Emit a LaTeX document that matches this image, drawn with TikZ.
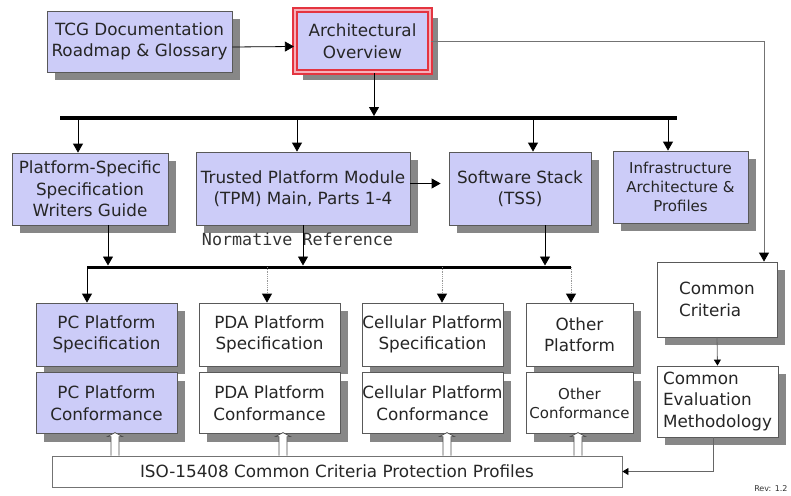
\documentclass[tikz,border=0pt]{standalone}
\usepackage{fontspec}
\setmainfont{DejaVu Sans}
\setmonofont{DejaVu Sans Mono}
\usepackage{tikz}
\usetikzlibrary{positioning,shadows,arrows.meta}
\definecolor{boxfill}{RGB}{204,204,248}
\definecolor{shadowgray}{RGB}{135,135,135}
\definecolor{archred}{RGB}{228,52,64}
\definecolor{archpink}{RGB}{246,176,186}

\begin{document}
\begin{tikzpicture}[x=1pt,y=-1pt,
	box/.style={draw=black!65,line width=0.8pt,fill=boxfill,inner sep=0pt,align=center,text=black!85,
		font=\fontsize{16.8}{21.5}\selectfont,
		drop shadow={shadow xshift=8pt,shadow yshift=-8pt,fill=shadowgray,opacity=1}},
	wbox/.style={box,fill=white},
	small/.style={font=\fontsize{15}{19}\selectfont},
	arr/.style={-{Triangle[length=9pt,width=10pt,color=black]},line width=0.8pt},
	dotted edge/.style={densely dotted,draw=black!40},
	sarr/.style={-{Triangle[length=6pt,width=7pt,color=black]},line width=0.8pt},
	bus/.style={line width=4pt},
	hollow/.style={draw=black!70,line width=0.7pt,fill=white}]
		\useasboundingbox (0,0) rectangle (791,495);
		\begin{scope}
			% top row
			\node[box,minimum width=185pt,minimum height=61pt] (1) at (139.5,41.5) {TCG Documentation\\Roadmap \& Glossary};
			\node[box,draw=archred,double=archpink,line width=2.2pt,double distance=1.8pt,
				minimum width=135pt,minimum height=62pt] (2) at (362.5,41) {Architectural\\Overview};
			% second row
			\node[box,minimum width=156pt,minimum height=72pt] (3) at (90,189) {Platform-Specific\\Specification\\Writers Guide};
			\node[box,minimum width=214pt,minimum height=73pt] (4) at (303,188.5) {Trusted Platform Module\\(TPM) Main, Parts 1-4};
			\node[box,minimum width=142pt,minimum height=73pt] (5) at (520,188.5) {Software Stack\\(TSS)};
			\node[box,small,minimum width=135pt,minimum height=72pt] (6) at (680.5,187) {Infrastructure\\Architecture \&\\Profiles};
			\node[font=\ttfamily\fontsize{16.7}{18}\selectfont,text=black!80] (18) at (297.5,239) {Normative Reference};
			% platforms
			\node[box,minimum width=141pt,minimum height=63pt] (7) at (106.5,334.5) {PC Platform\\Specification};
			\node[box,minimum width=141pt,minimum height=61pt,below=6pt of 7] (8) {PC Platform\\Conformance};
			\node[wbox,minimum width=141pt,minimum height=63pt] (9) at (269.5,334.5) {PDA Platform\\Specification};
			\node[wbox,minimum width=141pt,minimum height=61pt,below=6pt of 9] (10) {PDA Platform\\Conformance};
			\node[wbox,minimum width=141pt,minimum height=63pt] (11) at (432.5,334.5) {Cellular Platform\\Specification};
			\node[wbox,minimum width=141pt,minimum height=61pt,below=6pt of 11] (12) {Cellular Platform\\Conformance};
			\node[wbox,minimum width=107pt,minimum height=63pt] (13) at (579.5,334.5) {Other\\Platform};
			\node[wbox,small,minimum width=107pt,minimum height=61pt,below=6pt of 13] (14) {Other\\Conformance};
			% common criteria
			\node[wbox,align=left,minimum width=120pt,minimum height=75pt] (15) at (717,299.5) {Common\\Criteria};
			\node[wbox,align=left,minimum width=121pt,minimum height=71pt] (16) at (717.5,401.5) {Common\\Evaluation\\Methodology};
			\node[draw=black!55,line width=0.8pt,fill=white,inner sep=0pt,text=black!85,font=\fontsize{16.8}{21}\selectfont,
				minimum width=570pt,minimum height=31pt] (17) at (337,471.5) {ISO-15408 Common Criteria Protection Profiles};
			\node[font=\fontsize{8}{9}\selectfont,text=black!80,anchor=east] (20) at (791,489) {Rev: 1.2};

			% buses
			\coordinate (b1w) at (60,118);
			\coordinate (b1e) at (677,118);
			\coordinate (b2w) at (87,267);
			\coordinate (b2e) at (571,267);
			\draw[bus] (b1w) -- (b1e);
			\draw[bus,line width=3pt] (b2w) -- (b2e);

			\path[arr]
				([yshift=-5.5pt]1.east) edge ([yshift=-5.5pt]2.west)
				([xshift=11.5pt]2.south) edge[shorten >=2pt] ([xshift=11.5pt]2.south |- b1w)
				([xshift=-12pt]3.north |- b1w) edge ([xshift=-12pt]3.north)
				([xshift=-6pt]4.north |- b1w) edge ([xshift=-6pt]4.north)
				([xshift=13pt]5.north |- b1w) edge ([xshift=13pt]5.north)
				([xshift=-12.5pt]6.north |- b1w) edge ([xshift=-12.5pt]6.north)
				([yshift=5pt]4.east) edge[shorten >=8pt] ([yshift=5pt]5.west)
				([xshift=18pt]3.south) edge[shorten >=1.5pt] ([xshift=18pt]3.south |- b2w)
				(4.south) edge[shorten >=1.5pt] (4.south |- b2w)
				([xshift=25pt]5.south) edge[shorten >=1.5pt] ([xshift=25pt]5.south |- b2w)
				([xshift=-19.5pt]7.north |- b2w) edge ([xshift=-19.5pt]7.north)
				([xshift=-2.5pt]9.north |- b2w) edge[dotted edge] ([xshift=-2.5pt]9.north)
				([xshift=9.5pt]11.north |- b2w) edge[dotted edge] ([xshift=9.5pt]11.north)
				([xshift=-8.5pt]13.north |- b2w) edge[dotted edge] ([xshift=-8.5pt]13.north);

			% common criteria path
			\draw[arr,draw=black!55] (2.east) -| ([xshift=47pt]15.north);
			\draw[sarr,draw=black!60] (15.south) -- (16.north);
			\draw[sarr,draw=black!60] ([xshift=-4.5pt]16.south) |- (17.east);

			% profiles feed the conformance boxes
			\coordinate (21) at ([xshift=8.5pt]8.south |- 17.north);
			\coordinate (22) at ([xshift=13.5pt]10.south |- 17.north);
			\coordinate (23) at ([xshift=14.5pt]12.south |- 17.north);
			\coordinate (24) at ([xshift=-1.5pt]14.south |- 17.north);
			\draw[hollow] (21) ++(-4,0) -- ++(0,-19) -- ++(-3.5,0) -- ++(7.5,-4) -- ++(7.5,4) -- ++(-3.5,0) -- ++(0,19);
			\draw[hollow] (22) ++(-4,0) -- ++(0,-19) -- ++(-3.5,0) -- ++(7.5,-4) -- ++(7.5,4) -- ++(-3.5,0) -- ++(0,19);
			\draw[hollow] (23) ++(-4,0) -- ++(0,-19) -- ++(-3.5,0) -- ++(7.5,-4) -- ++(7.5,4) -- ++(-3.5,0) -- ++(0,19);
			\draw[hollow] (24) ++(-4,0) -- ++(0,-19) -- ++(-3.5,0) -- ++(7.5,-4) -- ++(7.5,4) -- ++(-3.5,0) -- ++(0,19);
		\end{scope}
	\end{tikzpicture}
\end{document}
